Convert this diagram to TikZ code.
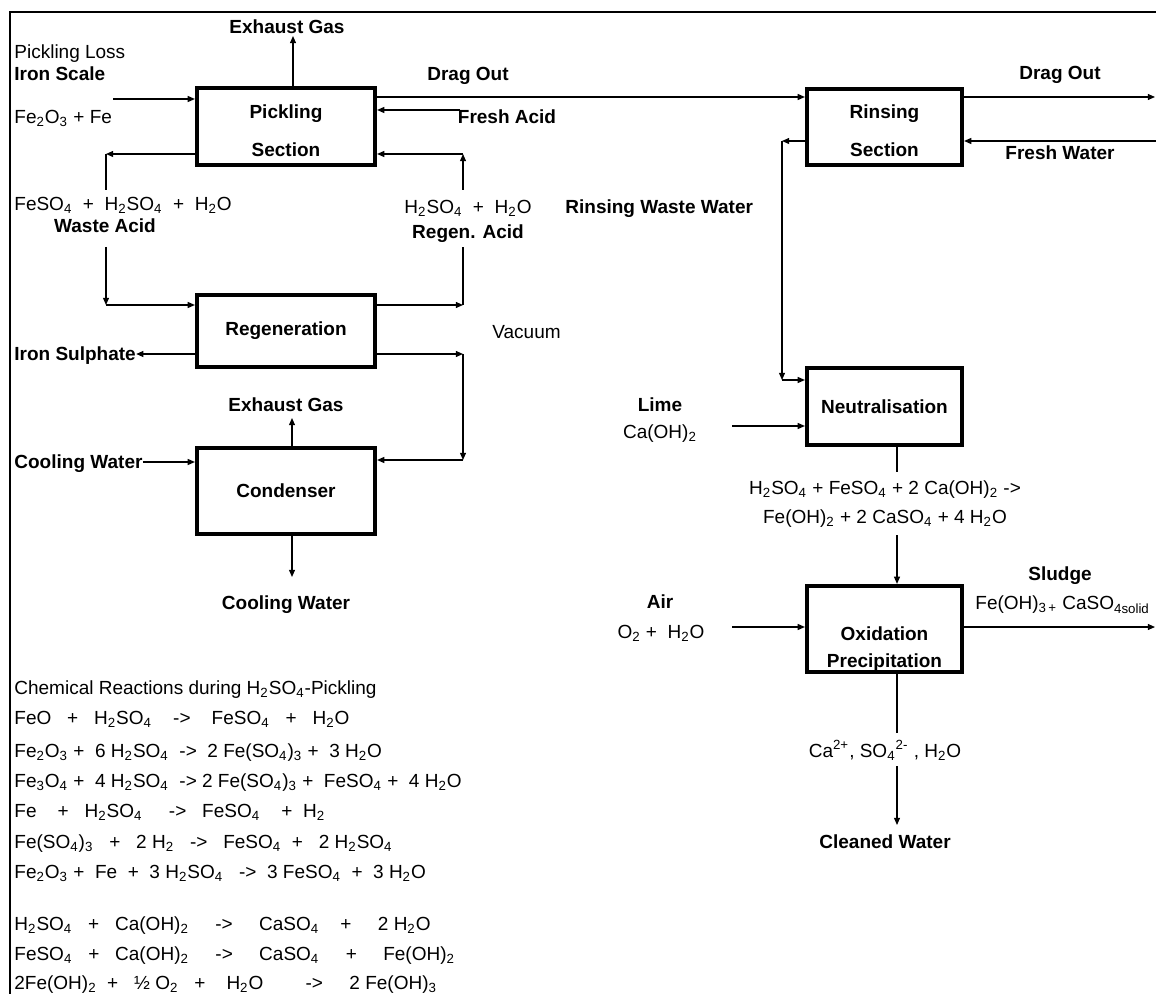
\documentclass[tikz,border=0pt]{standalone}
\usepackage{fontspec}
\setmainfont{Liberation Sans}
\usetikzlibrary{positioning, calc, arrows.meta}

\newcommand{\lowr}[1]{\textsubscript{#1}}
\newcommand{\upr}[1]{\textsuperscript{#1}}

\tikzset{
    unit/.style={draw, line width=2.1pt, inner sep=0pt, font=\bfseries, align=center},
    caption/.style={font=\bfseries, align=center, inner sep=0pt},
    flow/.style={line width=0.6pt, -{Triangle[length=3.6pt, width=3pt]}},
    pipe/.style={line width=0.6pt},
    txt/.style={inner sep=0pt, text height=7.8pt, text depth=1.2pt},
    tag/.style={txt, font=\bfseries},
    rxn/.style={txt, anchor=west},
}

\begin{document}
\fontsize{9.5}{11.4}\selectfont
\begin{tikzpicture}[x=0.5pt, y=-0.5pt]
    \useasboundingbox (0,0) rectangle (1156,994);

    % Frame
    \draw[line width=1pt] (10,994) -- (10,12) -- (1156,12);

    % Process units
    \node[unit, minimum width=89pt, minimum height=38.5pt,
          label={[caption, yshift=-2.25pt]center:{Pickling\\[7.6pt]Section}}] (pick) at (286,126.5) {};
    \node[unit, minimum width=77.5pt, minimum height=38pt,
          label={[caption, yshift=-2pt]center:{Rinsing\\[7.6pt]Section}}] (rins) at (884.5,127) {};
    \node[unit, minimum width=89pt, minimum height=36pt] (regen) at (286,331) {Regeneration};
    \node[unit, minimum width=89pt, minimum height=43pt] (cond) at (286,491) {Condenser};
    \node[unit, minimum width=77.5pt, minimum height=38.5pt] (neut) at (884.5,406.5) {Neutralisation};
    \node[unit, minimum width=77.5pt, minimum height=43pt,
          label={[caption, yshift=-10.25pt]center:{Oxidation\\[2.1pt]Precipitation}}] (oxid) at (884.5,629) {};

    % Pickling streams
    \node[tag] (exhA) at (287,27) {Exhaust Gas};
    \node[txt, anchor=west] (loss) at (14,52) {Pickling Loss};
    \node[tag, anchor=west] (scale) at (14,74) {Iron Scale};
    \node[txt, anchor=west] (scaleF) at (14,117) {Fe\lowr{2}O\lowr{3} + Fe};
    \node[tag] (dragA) at (468,74) {Drag Out};
    \node[tag] (freshA) at (507,117) {Fresh Acid};
    \node[txt, anchor=west] (wasteF) at (14,204) {FeSO\lowr{4}~~+~~H\lowr{2}SO\lowr{4}~~+~~H\lowr{2}O};
    \node[tag] (waste) at (105,226) {Waste Acid};
    \node[txt] (regenF) at (468,207) {H\lowr{2}SO\lowr{4}~~+~~H\lowr{2}O};
    \node[tag] (regenA) at (468,232) {Regen. Acid};

    % Regeneration and condenser streams
    \node[tag, anchor=west] (ironS) at (14,354) {Iron Sulphate};
    \node[txt, anchor=west] (vac) at (492,332) {Vacuum};
    \node[tag] (exhB) at (286,405) {Exhaust Gas};
    \node[tag, anchor=west] (coolA) at (14,462) {Cooling Water};
    \node[tag] (coolB) at (286,603) {Cooling Water};

    % Rinsing and waste water treatment streams
    \node[tag] (dragB) at (1060,73) {Drag Out};
    \node[tag] (freshW) at (1060,153) {Fresh Water};
    \node[tag, anchor=west] (rww) at (565,207) {Rinsing Waste Water};
    \node[tag] (lime) at (660,405) {Lime};
    \node[txt] (limeF) at (660,432) {Ca(OH)\lowr{2}};
    \node[inner sep=0pt, align=center] (neutF) at (885,504) {H\lowr{2}SO\lowr{4} + FeSO\lowr{4} + 2 Ca(OH)\lowr{2} ->\\[3.1pt]Fe(OH)\lowr{2} + 2 CaSO\lowr{4} + 4 H\lowr{2}O};
    \node[tag] (air) at (660,602) {Air};
    \node[txt] (airF) at (661,632) {O\lowr{2} +~~H\lowr{2}O};
    \node[tag] (sludge) at (1060,574) {Sludge};
    \node[txt, anchor=west] (sludgeF) at (975,603) {Fe(OH)\lowr{3\,+} CaSO\lowr{4solid}};
    \node[txt] (ions) at (885,751) {Ca\upr{2+}, SO\lowr{4}\upr{2-} , H\lowr{2}O};
    \node[tag] (clean) at (885,842) {Cleaned Water};

    % Reaction list
    \foreach \y/\eq [count=\i] in {
        688/{Chemical Reactions during H\lowr{2}SO\lowr{4}-Pickling},
        718/{FeO~~~+~~~H\lowr{2}SO\lowr{4}~~~~->~~~~FeSO\lowr{4}~~~+~~~H\lowr{2}O},
        751/{Fe\lowr{2}O\lowr{3} +~~6 H\lowr{2}SO\lowr{4}~~->~~2 Fe(SO\lowr{4})\lowr{3}~+~~3 H\lowr{2}O},
        781/{Fe\lowr{3}O\lowr{4} +~~4 H\lowr{2}SO\lowr{4}~~->~2 Fe(SO\lowr{4})\lowr{3}~+~~FeSO\lowr{4}~+~~4 H\lowr{2}O},
        811/{Fe~~~~+~~~H\lowr{2}SO\lowr{4}~~~~~->~~~FeSO\lowr{4}~~~~+~~H\lowr{2}},
        842/{Fe(SO\lowr{4})\lowr{3}~~~+~~~2 H\lowr{2}~~~->~~~FeSO\lowr{4}~~+~~~2 H\lowr{2}SO\lowr{4}},
        872/{Fe\lowr{2}O\lowr{3} +~~Fe~~+~~3 H\lowr{2}SO\lowr{4}~~~->~~3 FeSO\lowr{4}~~+~~3 H\lowr{2}O},
        924/{H\lowr{2}SO\lowr{4}~~~+~~~Ca(OH)\lowr{2}~~~~~->~~~~~CaSO\lowr{4}~~~~+~~~~~2 H\lowr{2}O},
        954/{FeSO\lowr{4}~~~+~~~Ca(OH)\lowr{2}~~~~~->~~~~~CaSO\lowr{4}~~~~~+~~~~~Fe(OH)\lowr{2}},
        983/{2Fe(OH)\lowr{2}~~+~~~½ O\lowr{2}~~~+~~~~H\lowr{2}O~~~~~~~~->~~~~~2 Fe(OH)\lowr{3}}}
        \node[rxn] (rx\i) at (14,\y) {\eq};

    % Bend points and free ends
    \coordinate (exhAT) at (293,36);
    \coordinate (scaleS) at (113,99);
    \coordinate (dragE) at (1155,97);
    \coordinate (freshS) at (460,110);
    \coordinate (wasteC) at (106,154);
    \coordinate (wasteT) at (106,190);
    \coordinate (wasteB) at (106,247);
    \coordinate (wasteD) at (106,305);
    \coordinate (regenC) at (463,154);
    \coordinate (regenT) at (463,190);
    \coordinate (regenB) at (463,247);
    \coordinate (regenD) at (463,305);
    \coordinate (vacA) at (463,354);
    \coordinate (vacB) at (463,460);
    \coordinate (condT) at (292,418);
    \coordinate (condB) at (292,577);
    \coordinate (freshWS) at (1156,141);
    \coordinate (rwC) at (782,141);
    \coordinate (rwD) at (782,380);
    \coordinate (limeS) at (732,426);
    \coordinate (neutB) at (897,472);
    \coordinate (oxidT) at (897,535);
    \coordinate (airS) at (732,627);
    \coordinate (sludgeE) at (1155,627);
    \coordinate (oxidB) at (897,733);
    \coordinate (cleanT) at (897,766);
    \coordinate (cleanB) at (897,825);

    % Pickling loop
    \draw[flow] (pick.north -| exhAT) -- (exhAT);
    \draw[flow] (scaleS) -- (scaleS -| pick.west);
    \draw[flow] (pick.east |- dragE) -- (rins.west |- dragE);
    \draw[flow] (freshS) -- (freshS -| pick.east);
    \draw[flow] (wasteC -| pick.west) -- (wasteC);
    \draw[pipe] (wasteC) -- (wasteT);
    \draw[flow] (wasteB) -- (wasteD);
    \draw[flow] (wasteD) -- (wasteD -| regen.west);
    \draw[flow] (regenD -| regen.east) -- (regenD);
    \draw[pipe] (regenD) -- (regenB);
    \draw[flow] (regenT) -- (regenC);
    \draw[flow] (regenC) -- (regenC -| pick.east);

    % Regeneration, vacuum and condenser
    \draw[flow] (vacA -| regen.west) -- (vacA -| ironS.east);
    \draw[flow] (vacA -| regen.east) -- (vacA);
    \draw[flow] (vacA) -- (vacB);
    \draw[flow] (vacB) -- (vacB -| cond.east);
    \draw[flow] (cond.north -| condT) -- (condT);
    \draw[flow] (coolA.east) -- (coolA -| cond.west);
    \draw[flow] (cond.south -| condB) -- (condB);

    % Rinsing and waste water treatment
    \draw[flow] (rins.east |- dragE) -- (dragE);
    \draw[flow] (freshWS) -- (freshWS -| rins.east);
    \draw[flow] (rwC -| rins.west) -- (rwC);
    \draw[flow] (rwC) -- (rwD);
    \draw[flow] (rwD) -- (rwD -| neut.west);
    \draw[flow] (limeS) -- (limeS -| neut.west);
    \draw[pipe] (neut.south -| neutB) -- (neutB);
    \draw[flow] (oxidT) -- (oxidT |- oxid.north);
    \draw[flow] (airS) -- (airS -| oxid.west);
    \draw[flow] (sludgeE -| oxid.east) -- (sludgeE);
    \draw[pipe] (oxid.south -| oxidB) -- (oxidB);
    \draw[flow] (cleanT) -- (cleanB);
\end{tikzpicture}
\end{document}
